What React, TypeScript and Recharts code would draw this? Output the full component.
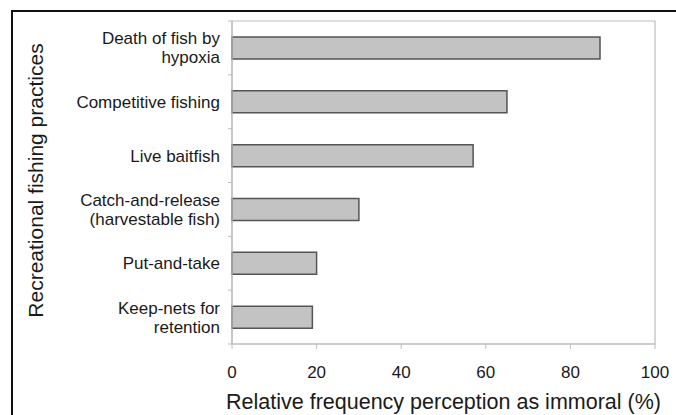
import React from "react";
import { BarChart, Bar, XAxis, YAxis, ReferenceArea } from "recharts";

const categories: string[] = [
  "Death of fish by\nhypoxia",
  "Competitive fishing",
  "Live baitfish",
  "Catch-and-release\n(harvestable fish)",
  "Put-and-take",
  "Keep-nets for\nretention",
];
const values: number[] = [87, 65, 57, 30, 20, 19];
const xTicks: number[] = [0, 20, 40, 60, 80, 100];
const xTitle = "Relative frequency perception as immoral (%)";
const yTitle = "Recreational fishing practices";

const data = categories.map((name, i) => ({ name, value: values[i] }));

const FONT = "'Liberation Sans', Arial, Helvetica, sans-serif";
const TEXT = "#1a1a1a";
const GRID = "#bdbdbd";

const CategoryTick = (props: any) => {
  const { x, y, payload } = props;
  const lines: string[] = String(payload.value).split("\n");
  const lh = 19;
  const half = payload && typeof payload.offset === "number" ? payload.offset : 0;
  const first = y - ((lines.length - 1) * lh) / 2 + 6;
  const lx1 = x + 8;
  const lx2 = x + 12;
  return (
    <g>
      {half > 0 && (
        <>
          {props.index === 0 && (
            <line x1={lx1} x2={lx2} y1={y - half} y2={y - half} stroke={GRID} strokeWidth={1} />
          )}
          <line x1={lx1} x2={lx2} y1={y + half} y2={y + half} stroke={GRID} strokeWidth={1} />
        </>
      )}
      <text
        x={x}
        y={first}
        textAnchor="end"
        fill={TEXT}
        fontSize={17}
        fontFamily={FONT}
      >
        {lines.map((l, i) => (
          <tspan key={i} x={x} dy={i === 0 ? 0 : lh}>
            {l}
          </tspan>
        ))}
      </text>
    </g>
  );
};

const YTitle = (props: any) => {
  const vb = props.viewBox || { x: 0, y: 21, width: 232, height: 323 };
  const cx = 35;
  const cy = vb.y + vb.height / 2 - 2;
  return (
    <text
      x={cx}
      y={cy}
      transform={`rotate(-90 ${cx} ${cy})`}
      textAnchor="middle"
      dominantBaseline="central"
      fill={TEXT}
      fontSize={21}
      fontFamily={FONT}
    >
      {yTitle}
    </text>
  );
};

export default function App() {
  return (
    <div
      style={{
        position: "absolute",
        left: 0,
        top: 0,
        width: 676,
        height: 415,
        overflow: "hidden",
        background: "#fff",
      }}
    >
      <div
        style={{
          position: "absolute",
          left: 11,
          top: 10,
          width: 700,
          height: 500,
          borderLeft: "2px solid #111",
          borderTop: "2px solid #111",
        }}
      />
      <div style={{ position: "absolute", left: 0, top: 0 }}>
        <BarChart
          width={676}
          height={415}
          data={data}
          layout="vertical"
          margin={{ top: 21, right: 21, bottom: 0, left: 0 }}
          barSize={22}
        >
          <ReferenceArea
            x1={0}
            x2={100}
            fill="none"
            stroke={GRID}
            strokeWidth={1.2}
            ifOverflow="visible"
          />
          <XAxis
            type="number"
            domain={[0, 100]}
            ticks={xTicks}
            height={71}
            axisLine={{ stroke: GRID, strokeWidth: 1.2 }}
            tickLine={{ stroke: GRID }}
            tickSize={5}
            tickMargin={17}
            tick={{ fill: TEXT, fontSize: 17, fontFamily: FONT }}
            label={{
              value: xTitle,
              position: "insideBottom",
              offset: 6,
              fill: TEXT,
              fontSize: 21.5,
              fontFamily: FONT,
            }}
          />
          <YAxis
            type="category"
            dataKey="name"
            width={232}
            axisLine={{ stroke: GRID, strokeWidth: 1.2 }}
            tickLine={false}
            tickSize={4}
            tickMargin={8}
            interval={0}
            tick={<CategoryTick />}
            label={<YTitle />}
          />
          <Bar
            dataKey="value"
            fill="#c3c3c3"
            stroke="#555"
            strokeWidth={1.5}
            isAnimationActive={false}
          />
        </BarChart>
      </div>
    </div>
  );
}
